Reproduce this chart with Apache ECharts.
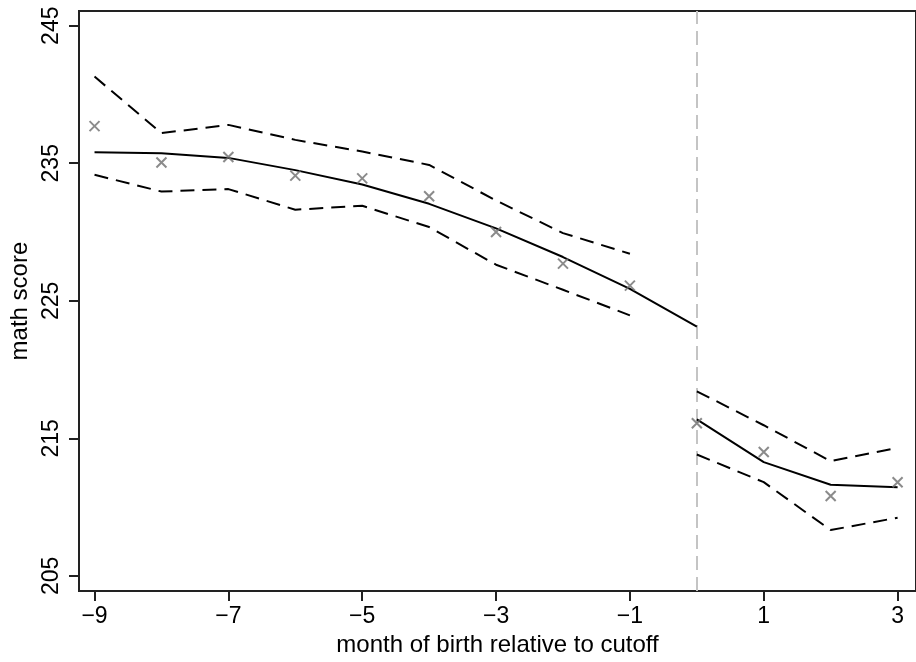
<!DOCTYPE html>
<html>
<head>
<meta charset="utf-8">
<script src="https://cdn.jsdelivr.net/npm/echarts@6/dist/echarts.min.js"></script>
<style>html,body{margin:0;padding:0;background:#fff}#c{width:916px;height:662px}</style>
</head>
<body>
<div id="c"></div>
<script>
const months = [-9,-8,-7,-6,-5,-4,-3,-2,-1,0,1,2,3];
const meanScore = [237.7,235.05,235.45,234.1,233.9,232.6,230.0,227.7,226.1,216.1,214.0,210.8,211.8];
const leftMonths = [-9,-8,-7,-6,-5,-4,-3,-2,-1,0];
const fitLeft = [235.8,235.73,235.39,234.5,233.45,232.05,230.26,228.18,225.86,223.12];
const ciMonthsLeft = [-9,-8,-7,-6,-5,-4,-3,-2,-1];
const upperLeft = [241.3,237.19,237.79,236.7,235.85,234.88,232.29,229.92,228.42];
const lowerLeft = [234.16,232.94,233.12,231.62,231.91,230.36,227.62,225.8,223.94];
const rightMonths = [0,1,2,3];
const fitRight = [216.37,213.27,211.62,211.45];
const upperRight = [218.42,215.95,213.34,214.31];
const lowerRight = [213.82,211.81,208.33,209.23];
const xTicks = [-9,-7,-5,-3,-1,1,3];
const yTicks = [205,215,225,235,245];
const cutoff = 0;

const FONT = "'Liberation Sans', Arial, Helvetica, sans-serif";
const zip = (xs, ys) => xs.map((x, i) => [x, ys[i]]);
const fmt = v => v < 0 ? '\u2212' + Math.abs(v) : String(v);

const lineSeries = (xs, ys, dashed) => ({
  type: 'line', data: zip(xs, ys), symbol: 'none', silent: true,
  lineStyle: { color: '#000', width: 2, type: dashed ? [14, 8] : 'solid' }, z: 3
});

const chart = echarts.init(document.getElementById('c'), null, { renderer: 'canvas' });
chart.setOption({
  animation: false,
  backgroundColor: '#fff',
  grid: { left: 79, right: -10, top: 11, bottom: 70, show: true, borderColor: '#222', borderWidth: 2, containLabel: false },
  xAxis: {
    type: 'value', min: -9.232, max: 3.275,
    name: 'month of birth relative to cutoff', nameLocation: 'middle', nameGap: 39,
    nameTextStyle: { fontFamily: FONT, fontSize: 24, color: '#000' },
    axisLine: { show: true, onZero: false, lineStyle: { color: '#222', width: 2 } },
    axisTick: { show: true, length: 10, customValues: xTicks, lineStyle: { color: '#222', width: 2 } },
    axisLabel: { customValues: xTicks, formatter: fmt, fontFamily: FONT, fontSize: 23, color: '#000', margin: 14 },
    splitLine: { show: false }
  },
  yAxis: {
    type: 'value', min: 203.89, max: 246.07,
    name: 'math score', nameLocation: 'middle', nameGap: 45, nameRotate: 90,
    nameTextStyle: { fontFamily: FONT, fontSize: 24, color: '#000' },
    axisLine: { show: true, onZero: false, lineStyle: { color: '#222', width: 2 } },
    axisTick: { show: true, length: 10, customValues: yTicks, lineStyle: { color: '#222', width: 2 } },
    axisLabel: { customValues: yTicks, rotate: 90, fontFamily: FONT, fontSize: 23, color: '#000', margin: 16 },
    splitLine: { show: false }
  },
  series: [
    {
      type: 'scatter', data: zip(months, meanScore), silent: true,
      symbol: 'path://M0,0L10,10M10,0L0,10', symbolSize: 10,
      itemStyle: { color: 'rgba(0,0,0,0)', borderColor: '#6e6e6e', borderWidth: 2 },
      z: 4,
      markLine: {
        silent: true, symbol: 'none', label: { show: false },
        lineStyle: { color: '#c4c4c4', width: 2, type: [14, 7] },
        data: [{ xAxis: cutoff }], z: 1
      }
    },
    lineSeries(leftMonths, fitLeft, false),
    lineSeries(ciMonthsLeft, upperLeft, true),
    lineSeries(ciMonthsLeft, lowerLeft, true),
    lineSeries(rightMonths, fitRight, false),
    lineSeries(rightMonths, upperRight, true),
    lineSeries(rightMonths, lowerRight, true)
  ]
});
</script>
</body>
</html>
